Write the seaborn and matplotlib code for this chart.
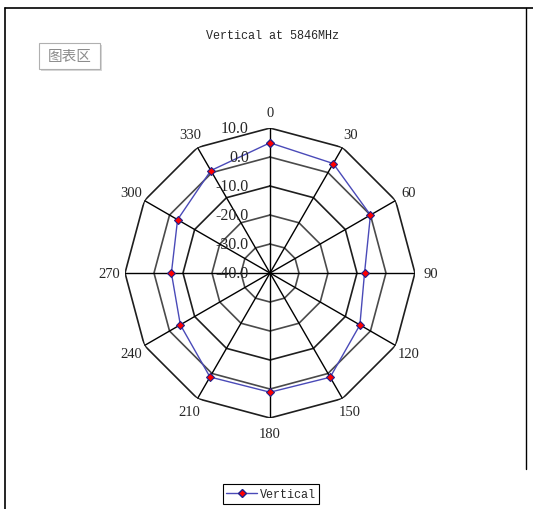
import numpy as np
import pandas as pd
import matplotlib
matplotlib.use("Agg")
import matplotlib.pyplot as plt
import matplotlib.transforms as mtransforms
from matplotlib.lines import Line2D
from matplotlib.patches import Rectangle
import seaborn as sns

# data
angles_deg = [0, 30, 60, 90, 120, 150, 180, 210, 240, 270, 300, 330]
vertical = [4.9, 3.6, 0.0, -7.4, -4.2, 1.5, 1.1, 1.4, -4.3, -6.0, -3.2, 0.8]
ring_values = [10, 0, -10, -20, -30, -40]
ring_labels = ["10.0", "0.0", "-10.0", "-20.0", "-30.0", "-40.0"]

sns.set_style("white")
plt.rcParams['font.family'] = ['Liberation Serif', 'DejaVu Sans']

fig = plt.figure(figsize=(5.33, 5.10), dpi=100)
ax = fig.add_axes([0.2345, 0.1784, 0.5441, 0.5686], projection='polar')
ax.set_theta_zero_location('N')
ax.set_theta_direction(-1)
ax.set_ylim(-40, 10)
ax.grid(False)
ax.spines['polar'].set_visible(False)
ax.set_xticks([])
ax.set_yticks([])
ax.patch.set_alpha(0)

theta = np.deg2rad(angles_deg)
theta_closed = np.append(theta, theta[0] + 2 * np.pi)

# polygon grid
ring_colors = {10: '#1e1e1e', 0: '#4a4a4a', -10: '#1e1e1e', -20: '#4a4a4a', -30: '#4a4a4a'}
for v in ring_values[:-1]:
    ax.plot(theta_closed, [v] * len(theta_closed), color=ring_colors[v], lw=1.2, zorder=1)
for t in theta:
    ax.plot([t, t], [-40, 10], color='black', lw=1, zorder=1)

# the series
df = pd.DataFrame({"theta": theta_closed, "value": vertical + [vertical[0]]})
sns.lineplot(data=df, x="theta", y="value", sort=False, estimator=None, ax=ax,
             color='#4a4ab8', lw=1, marker='D', markersize=4.5,
             markerfacecolor='red', markeredgecolor='#20208a', markeredgewidth=0.8,
             label='Vertical', legend=False, zorder=3)
ax.set_xlabel('')
ax.set_ylabel('')

# angle labels
for a, t in zip(angles_deg, theta):
    ax.text(t, 15.3, str(a), ha='center', va='center', fontsize=10.5, clip_on=False)

# radial labels
off = mtransforms.offset_copy(ax.transData, fig=fig, x=-21, y=0, units='dots')
for v, lab in zip(ring_values, ring_labels):
    ax.text(0, v, lab, transform=off, ha='right', va='center', fontsize=11.5,
            clip_on=False, zorder=4)

fig.text(273 / 533, 1 - 36 / 510, "Vertical at 5846MHz", ha='center', va='center',
         fontsize=8.5, family=['Liberation Mono', 'DejaVu Sans Mono'])

# chart-area frame
W, H = 533.0, 510.0
fig.add_artist(Line2D([5 / W, 5 / W], [0, 1 - 9 / H], color='black', lw=1.2))
fig.add_artist(Line2D([5 / W, 1], [1 - 9 / H, 1 - 9 / H], color='black', lw=1.2))
fig.add_artist(Line2D([526 / W, 526 / W], [1 - 470 / H, 1 - 9 / H], color='black', lw=1))

# tooltip box
fig.add_artist(Rectangle((41 / W, 1 - 72 / H), 61 / W, 26 / H, transform=fig.transFigure,
                         facecolor='#d8d8d8', edgecolor='none'))
fig.add_artist(Rectangle((39 / W, 1 - 70 / H), 61 / W, 26 / H, transform=fig.transFigure,
                         facecolor='white', edgecolor='#b0b0b0', lw=0.8))
fig.text(69.5 / W, 1 - 57 / H, "图表区", ha='center', va='center', fontsize=10.5,
         color='#8c8c8c', family=['Noto Sans CJK SC', 'DejaVu Sans'])

# legend
handle = Line2D([], [], color='#4a4ab8', lw=1, marker='D', markersize=4.5,
                markerfacecolor='red', markeredgecolor='#20208a')
leg = fig.legend([handle], ['Vertical'], loc='center', bbox_to_anchor=(271 / W, 1 - 495 / H),
                 frameon=True, fancybox=False, edgecolor='black', framealpha=1,
                 handlelength=2.6, handletextpad=0.2, borderpad=0.3, borderaxespad=0,
                 prop={'family': ['Liberation Mono', 'DejaVu Sans Mono'], 'size': 8.5})
leg.get_frame().set_linewidth(0.8)

fig.savefig("out.png", dpi=100)
